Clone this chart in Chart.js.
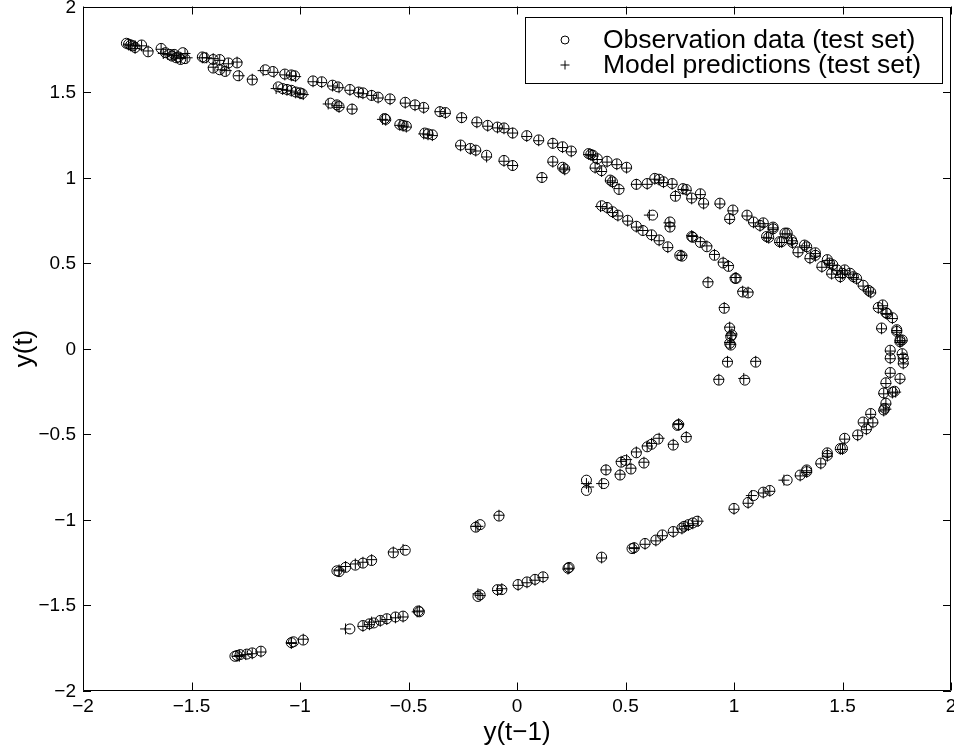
<!DOCTYPE html>
<html>
<head>
<meta charset="utf-8">
<title>y(t) vs y(t-1)</title>
<script src="https://cdn.jsdelivr.net/npm/chart.js@4.4.1/dist/chart.umd.min.js"></script>
<style>
  html, body { margin: 0; padding: 0; background: #fff; }
  #chart { display: block; }
</style>
</head>
<body>
<canvas id="chart" width="954" height="753"></canvas>
<script>
/* ------------------------------------------
   Data (x = y(t-1), y = y(t))
   ------------------------------------------ */
const xTicks = [-2, -1.5, -1, -0.5, 0, 0.5, 1, 1.5, 2];
const yTicks = [-2, -1.5, -1, -0.5, 0, 0.5, 1, 1.5, 2];

const seriesLabels = ['Observation data (test set)', 'Model predictions (test set)'];

const observed = [
  [-1.80,1.785],[-1.79,1.78],[-1.78,1.775],[-1.77,1.77],[-1.76,1.76],[-1.73,1.775],[-1.70,1.735],[-1.64,1.755],
  [-1.62,1.73],[-1.60,1.72],[-1.59,1.71],[-1.58,1.72],[-1.57,1.70],[-1.56,1.705],[-1.55,1.69],[-1.54,1.73],[-1.53,1.695],
  [-1.45,1.705],[-1.44,1.70],[-1.40,1.69],[-1.37,1.69],[-1.40,1.64],[-1.37,1.63],[-1.345,1.62],[-1.33,1.67],
  [-1.29,1.67],[-1.285,1.595],[-1.22,1.57],
  [-1.16,1.63],[-1.125,1.62],[-1.07,1.605],[-1.04,1.60],[-1.025,1.595],
  [-1.10,1.53],[-1.08,1.52],[-1.06,1.515],[-1.04,1.51],[-1.02,1.50],[-1.00,1.495],[-0.99,1.49],
  [-0.94,1.565],[-0.90,1.56],[-0.85,1.54],[-0.825,1.53],
  [-0.86,1.435],[-0.83,1.425],[-0.82,1.415],[-0.76,1.40],
  [-0.77,1.515],[-0.73,1.50],[-0.71,1.495],[-0.67,1.48],[-0.64,1.47],[-0.585,1.46],[-0.515,1.44],[-0.47,1.425],
  [-0.43,1.41],[-0.355,1.385],[-0.33,1.38],[-0.255,1.35],[-0.185,1.325],[-0.135,1.305],[-0.09,1.295],[-0.06,1.29],
  [-0.02,1.26],[0.045,1.245],[0.10,1.22],[0.165,1.20],[0.21,1.18],[0.25,1.155],
  [-0.61,1.345],[-0.605,1.34],[-0.54,1.31],[-0.525,1.305],[-0.51,1.30],[-0.425,1.26],[-0.41,1.255],[-0.39,1.25],
  [-0.26,1.19],[-0.215,1.17],[-0.19,1.16],[-0.14,1.13],[-0.06,1.10],[-0.02,1.07],[0.115,1.00],[0.165,1.095],
  [0.21,1.06],[0.22,1.05],
  [0.33,1.14],[0.34,1.135],[0.35,1.13],[0.37,1.11],[0.415,1.095],[0.46,1.08],[0.505,1.06],[0.36,1.06],[0.39,1.04],
  [0.43,0.985],[0.44,0.975],[0.47,0.93],[0.55,0.96],[0.60,0.965],[0.635,0.995],[0.655,0.99],[0.675,0.975],
  [0.715,0.965],[0.73,0.89],[0.765,0.935],[0.78,0.93],[0.805,0.88],[0.845,0.905],[0.86,0.85],[0.935,0.85],
  [0.995,0.81],[0.98,0.76],[1.06,0.78],[1.09,0.74],[1.12,0.72],[1.135,0.735],[1.15,0.655],[1.16,0.65],[1.18,0.71],
  [1.18,0.70],[1.21,0.625],[1.235,0.675],[1.245,0.675],[1.22,0.625],[1.265,0.635],[1.27,0.62],[1.295,0.565],
  [1.325,0.605],[1.335,0.595],[1.35,0.53],[1.375,0.56],[1.375,0.545],[1.405,0.48],[1.43,0.52],[1.44,0.50],
  [1.455,0.49],[1.45,0.44],[1.475,0.46],[1.49,0.42],[1.50,0.44],[1.51,0.46],[1.535,0.44],[1.55,0.42],[1.565,0.41],
  [1.595,0.37],[1.63,0.33],[1.62,0.34],[1.665,0.24],[1.685,0.255],[1.705,0.205],[1.70,0.21],[1.73,0.18],
  [1.68,0.12],[1.75,0.11],[1.75,0.10],[1.765,0.05],[1.775,0.05],
  [1.765,0.04],[1.775,-0.03],[1.72,-0.01],[1.72,-0.055],[1.78,-0.055],[1.78,-0.085],[1.72,-0.14],[1.765,-0.175],
  [1.70,-0.20],[1.74,-0.25],[1.69,-0.26],[1.73,-0.255],[1.695,-0.35],[1.69,-0.36],[1.70,-0.32],[1.63,-0.38],
  [1.595,-0.43],[1.61,-0.47],[1.64,-0.43],[1.57,-0.505],[1.51,-0.525],[1.50,-0.585],[1.49,-0.585],[1.43,-0.61],
  [1.43,-0.625],[1.40,-0.67],[1.335,-0.71],[1.335,-0.72],[1.305,-0.74],[1.245,-0.77],[1.165,-0.83],[1.135,-0.84],
  [1.09,-0.86],[1.065,-0.90],[1.00,-0.935],
  [0.83,-1.01],[0.81,-1.02],[0.79,-1.03],[0.77,-1.04],[0.76,-1.05],[0.72,-1.07],[0.67,-1.09],[0.64,-1.12],
  [0.59,-1.14],[0.53,-1.17],[0.54,-1.165],[0.39,-1.22],[0.235,-1.285],[0.24,-1.28],[0.12,-1.335],[0.083,-1.35],
  [0.046,-1.365],[0.005,-1.38],[-0.07,-1.41],[-0.09,-1.41],[-0.18,-1.45],[-0.17,-1.44],
  [-0.45,-1.54],[-0.455,-1.535],[-0.525,-1.565],[-0.56,-1.57],[-0.60,-1.58],[-0.63,-1.59],[-0.66,-1.605],
  [-0.68,-1.61],[-0.71,-1.62],[-0.77,-1.64],[-0.985,-1.705],[-1.03,-1.715],[-1.04,-1.72],[-1.18,-1.77],
  [-1.22,-1.78],[-1.245,-1.787],[-1.276,-1.79],[-1.30,-1.80],[-1.29,-1.795],
  [-0.083,-0.98],[-0.17,-1.03],[-0.19,-1.045],[-0.515,-1.18],[-0.57,-1.195],[-0.67,-1.24],[-0.71,-1.255],
  [-0.745,-1.267],[-0.79,-1.28],[-0.83,-1.30],[-0.82,-1.305],
  [0.32,-0.83],[0.32,-0.77],[0.40,-0.79],[0.475,-0.74],[0.525,-0.705],[0.585,-0.67],[0.41,-0.71],[0.48,-0.665],
  [0.50,-0.655],[0.55,-0.61],[0.60,-0.575],[0.62,-0.56],[0.65,-0.53],[0.72,-0.565],[0.74,-0.45],[0.745,-0.445],
  [0.78,-0.52],
  [0.93,-0.185],[0.97,-0.08],[1.05,-0.185],[1.10,-0.08],[0.98,0.03],[0.985,0.02],[0.985,0.07],[0.99,0.08],
  [0.98,0.12],[0.955,0.235],[1.04,0.33],[1.065,0.325],[0.88,0.385],[1.005,0.41],[1.01,0.41],
  [0.39,0.835],[0.415,0.825],[0.44,0.80],[0.465,0.78],[0.51,0.75],[0.55,0.715],[0.58,0.69],[0.62,0.665],
  [0.655,0.635],[0.695,0.595],[0.75,0.545],[0.76,0.54],[0.625,0.78],[0.705,0.74],[0.705,0.71],[0.805,0.655],
  [0.81,0.65],[0.845,0.62],[0.875,0.595],[0.91,0.545],[0.95,0.50],[0.975,0.48]
];

const predicted = [
  [-1.79,1.78],[-1.79,1.775],[-1.78,1.77],[-1.76,1.77],[-1.76,1.755],[-1.73,1.77],[-1.70,1.74],[-1.64,1.75],
  [-1.63,1.725],[-1.61,1.72],[-1.59,1.715],[-1.58,1.715],[-1.57,1.705],[-1.55,1.70],[-1.55,1.695],[-1.53,1.725],[-1.52,1.70],
  [-1.45,1.70],[-1.43,1.70],[-1.40,1.695],[-1.37,1.685],[-1.40,1.645],[-1.36,1.63],[-1.34,1.625],[-1.33,1.665],
  [-1.29,1.675],[-1.28,1.595],[-1.22,1.575],
  [-1.17,1.625],[-1.12,1.615],[-1.07,1.60],[-1.04,1.595],[-1.02,1.59],
  [-1.11,1.52],[-1.08,1.515],[-1.06,1.51],[-1.04,1.505],[-1.02,1.495],[-1.00,1.49],[-0.985,1.485],
  [-0.94,1.56],[-0.90,1.555],[-0.85,1.535],[-0.82,1.525],
  [-0.87,1.43],[-0.83,1.42],[-0.82,1.41],[-0.76,1.40],
  [-0.77,1.51],[-0.73,1.495],[-0.71,1.49],[-0.67,1.48],[-0.64,1.465],[-0.585,1.455],[-0.515,1.435],[-0.47,1.42],
  [-0.43,1.405],[-0.355,1.385],[-0.33,1.375],[-0.255,1.35],[-0.185,1.32],[-0.135,1.30],[-0.09,1.29],[-0.06,1.285],
  [-0.02,1.26],[0.045,1.24],[0.10,1.215],[0.165,1.20],[0.21,1.175],[0.25,1.15],
  [-0.62,1.34],[-0.605,1.335],[-0.54,1.305],[-0.525,1.30],[-0.51,1.295],[-0.43,1.255],[-0.41,1.25],[-0.39,1.245],
  [-0.26,1.185],[-0.215,1.165],[-0.19,1.155],[-0.14,1.12],[-0.06,1.095],[-0.02,1.07],[0.115,1.00],[0.165,1.09],
  [0.215,1.055],[0.22,1.045],
  [0.33,1.135],[0.34,1.13],[0.35,1.125],[0.37,1.105],[0.415,1.09],[0.46,1.075],[0.505,1.055],[0.36,1.055],[0.39,1.035],
  [0.43,0.98],[0.44,0.97],[0.47,0.935],[0.55,0.96],[0.60,0.96],[0.635,0.99],[0.655,0.985],[0.675,0.97],
  [0.715,0.96],[0.73,0.895],[0.765,0.93],[0.78,0.925],[0.805,0.875],[0.845,0.90],[0.86,0.845],[0.935,0.845],
  [0.995,0.805],[0.98,0.755],[1.06,0.775],[1.09,0.735],[1.12,0.715],[1.135,0.73],[1.15,0.65],[1.16,0.645],[1.18,0.705],
  [1.18,0.695],[1.21,0.62],[1.235,0.67],[1.245,0.67],[1.22,0.62],[1.265,0.63],[1.27,0.615],[1.295,0.56],
  [1.325,0.60],[1.335,0.59],[1.35,0.525],[1.375,0.555],[1.375,0.54],[1.405,0.475],[1.43,0.515],[1.44,0.495],
  [1.455,0.485],[1.45,0.435],[1.475,0.455],[1.49,0.415],[1.50,0.435],[1.51,0.455],[1.535,0.435],[1.55,0.415],[1.565,0.405],
  [1.595,0.365],[1.63,0.325],[1.62,0.335],[1.665,0.235],[1.685,0.25],[1.705,0.20],[1.70,0.205],[1.73,0.175],
  [1.68,0.115],[1.75,0.105],[1.75,0.095],[1.765,0.045],[1.775,0.045],
  [1.765,0.035],[1.775,-0.035],[1.72,-0.015],[1.72,-0.06],[1.78,-0.06],[1.78,-0.09],[1.72,-0.145],[1.765,-0.18],
  [1.70,-0.205],[1.745,-0.255],[1.69,-0.265],[1.73,-0.26],[1.70,-0.355],[1.69,-0.365],[1.70,-0.325],[1.63,-0.385],
  [1.60,-0.435],[1.61,-0.475],[1.64,-0.435],[1.57,-0.51],[1.51,-0.53],[1.50,-0.59],[1.49,-0.59],[1.43,-0.615],
  [1.43,-0.63],[1.40,-0.675],[1.335,-0.715],[1.335,-0.725],[1.305,-0.745],[1.23,-0.77],[1.165,-0.835],[1.135,-0.845],
  [1.08,-0.86],[1.065,-0.905],[1.00,-0.94],
  [0.835,-1.01],[0.81,-1.025],[0.79,-1.035],[0.775,-1.04],[0.76,-1.055],[0.72,-1.075],[0.67,-1.095],[0.64,-1.125],
  [0.59,-1.145],[0.54,-1.165],[0.54,-1.17],[0.39,-1.225],[0.235,-1.29],[0.24,-1.285],[0.12,-1.34],[0.083,-1.355],
  [0.046,-1.37],[0.005,-1.385],[-0.07,-1.405],[-0.09,-1.415],[-0.18,-1.435],[-0.17,-1.445],
  [-0.45,-1.535],[-0.46,-1.54],[-0.525,-1.57],[-0.56,-1.575],[-0.60,-1.585],[-0.63,-1.595],[-0.67,-1.60],
  [-0.68,-1.615],[-0.71,-1.625],[-0.79,-1.64],[-0.985,-1.70],[-1.04,-1.72],[-1.04,-1.725],[-1.18,-1.775],
  [-1.22,-1.785],[-1.25,-1.79],[-1.28,-1.795],[-1.28,-1.80],[-1.29,-1.80],
  [-0.083,-0.975],[-0.18,-1.04],[-0.19,-1.04],[-0.525,-1.175],[-0.57,-1.19],[-0.67,-1.235],[-0.71,-1.25],
  [-0.745,-1.26],[-0.79,-1.275],[-0.82,-1.295],[-0.82,-1.30],
  [0.33,-0.81],[0.32,-0.79],[0.39,-0.79],[0.475,-0.735],[0.525,-0.70],[0.585,-0.665],[0.41,-0.71],[0.48,-0.66],
  [0.505,-0.65],[0.55,-0.605],[0.60,-0.57],[0.62,-0.555],[0.655,-0.525],[0.72,-0.56],[0.745,-0.445],[0.745,-0.44],
  [0.78,-0.515],
  [0.93,-0.18],[0.97,-0.075],[1.045,-0.175],[1.10,-0.075],[0.98,0.035],[0.985,0.025],[0.985,0.075],[0.99,0.085],
  [0.98,0.125],[0.955,0.24],[1.04,0.335],[1.065,0.33],[0.88,0.39],[1.005,0.415],[1.01,0.415],
  [0.385,0.83],[0.415,0.82],[0.44,0.795],[0.465,0.775],[0.51,0.745],[0.55,0.71],[0.58,0.69],[0.62,0.66],
  [0.655,0.63],[0.695,0.59],[0.755,0.545],[0.76,0.545],[0.61,0.78],[0.70,0.735],[0.705,0.715],[0.805,0.66],
  [0.81,0.655],[0.845,0.625],[0.875,0.60],[0.91,0.55],[0.95,0.505],[0.975,0.485]
];

const FONT_FAMILY = "'Liberation Sans', Arial, Helvetica, sans-serif";

function fmtTick(v) {
  return v < 0 ? '\u2212' + Math.abs(v) : String(v);
}

/* ------------------------------------------
   MATLAB-style box, inward ticks on all four sides, tick labels
   ------------------------------------------ */
const boxPlugin = {
  id: 'matlabBox',
  afterDatasetsDraw(chart) {
    const { ctx, chartArea: a, scales } = chart;
    const tick = 8;
    ctx.save();
    ctx.strokeStyle = '#000';
    ctx.lineWidth = 1;
    ctx.beginPath();
    ctx.rect(Math.round(a.left) + 0.5, Math.round(a.top) + 0.5,
      Math.round(a.right - a.left) - 1, Math.round(a.bottom - a.top) - 1);
    ctx.stroke();

    ctx.beginPath();
    xTicks.forEach(v => {
      const px = Math.round(scales.x.getPixelForValue(v)) + 0.5;
      ctx.moveTo(px, a.bottom); ctx.lineTo(px, a.bottom - tick);
      ctx.moveTo(px, a.top); ctx.lineTo(px, a.top + tick);
    });
    yTicks.forEach(v => {
      const py = Math.round(scales.y.getPixelForValue(v)) + 0.5;
      ctx.moveTo(a.left, py); ctx.lineTo(a.left + tick, py);
      ctx.moveTo(a.right, py); ctx.lineTo(a.right - tick, py);
    });
    ctx.stroke();

    ctx.fillStyle = '#000';
    ctx.font = '19px ' + FONT_FAMILY;
    ctx.textBaseline = 'middle';
    ctx.textAlign = 'center';
    xTicks.forEach(v => {
      ctx.fillText(fmtTick(v), scales.x.getPixelForValue(v), a.bottom + 16);
    });
    ctx.textAlign = 'right';
    yTicks.forEach(v => {
      ctx.fillText(fmtTick(v), a.left - 7, scales.y.getPixelForValue(v) + 1);
    });
    ctx.restore();
  }
};

/* ------------------------------------------
   Boxed legend in the upper right corner
   ------------------------------------------ */
const legendPlugin = {
  id: 'boxLegend',
  afterDraw(chart) {
    const { ctx } = chart;
    const box = { left: 525, top: 17, right: 942, bottom: 83 };
    ctx.save();
    ctx.fillStyle = '#fff';
    ctx.fillRect(box.left, box.top, box.right - box.left, box.bottom - box.top);
    ctx.strokeStyle = '#000';
    ctx.lineWidth = 1;
    ctx.strokeRect(box.left + 0.5, box.top + 0.5, box.right - box.left, box.bottom - box.top);

    const rows = [40, 65];
    const mx = 565;
    ctx.beginPath();
    ctx.arc(mx, rows[0], 4, 0, Math.PI * 2);
    ctx.stroke();
    ctx.beginPath();
    ctx.moveTo(mx - 4.5, rows[1]); ctx.lineTo(mx + 4.5, rows[1]);
    ctx.moveTo(mx, rows[1] - 4.5); ctx.lineTo(mx, rows[1] + 4.5);
    ctx.stroke();

    ctx.fillStyle = '#000';
    ctx.font = '26.5px ' + FONT_FAMILY;
    ctx.textAlign = 'left';
    ctx.textBaseline = 'middle';
    chart.data.datasets.forEach((ds, i) => {
      ctx.fillText(ds.label, 603, rows[i] + 1);
    });
    ctx.restore();
  }
};

const ctx = document.getElementById('chart');

new Chart(ctx, {
  type: 'scatter',
  data: {
    datasets: [
      {
        label: seriesLabels[0],
        data: observed.map(([x, y]) => ({ x, y })),
        pointStyle: 'circle',
        pointRadius: 5,
        pointBorderWidth: 1,
        borderColor: '#000',
        backgroundColor: 'rgba(0,0,0,0)'
      },
      {
        label: seriesLabels[1],
        data: predicted.map(([x, y]) => ({ x, y })),
        pointStyle: 'cross',
        pointRadius: 5.5,
        pointBorderWidth: 1,
        borderColor: '#000',
        backgroundColor: 'rgba(0,0,0,0)'
      }
    ]
  },
  options: {
    responsive: false,
    animation: false,
    devicePixelRatio: 1,
    events: [],
    layout: { autoPadding: false, padding: { top: 6.5, right: 3, left: 0, bottom: 0 } },
    plugins: {
      legend: { display: false },
      tooltip: { enabled: false }
    },
    scales: {
      x: {
        type: 'linear',
        min: -2,
        max: 2,
        afterBuildTicks: s => { s.ticks = xTicks.map(v => ({ value: v })); },
        afterFit: s => { s.height = 62.5; s.paddingLeft = 0; s.paddingRight = 0; },
        grid: { display: false, drawTicks: false },
        border: { display: false },
        ticks: { display: false },
        title: {
          display: true,
          text: 'y(t\u22121)',
          color: '#000',
          font: { family: FONT_FAMILY, size: 26 },
          padding: { top: 0, bottom: 5 }
        }
      },
      y: {
        type: 'linear',
        min: -2,
        max: 2,
        afterBuildTicks: s => { s.ticks = yTicks.map(v => ({ value: v })); },
        afterFit: s => { s.width = 83; s.paddingTop = 0; s.paddingBottom = 0; },
        grid: { display: false, drawTicks: false },
        border: { display: false },
        ticks: { display: false },
        title: {
          display: true,
          text: 'y(t)',
          color: '#000',
          font: { family: FONT_FAMILY, size: 26 },
          padding: { top: 9, bottom: 0 }
        }
      }
    }
  },
  plugins: [boxPlugin, legendPlugin]
});
</script>
</body>
</html>
